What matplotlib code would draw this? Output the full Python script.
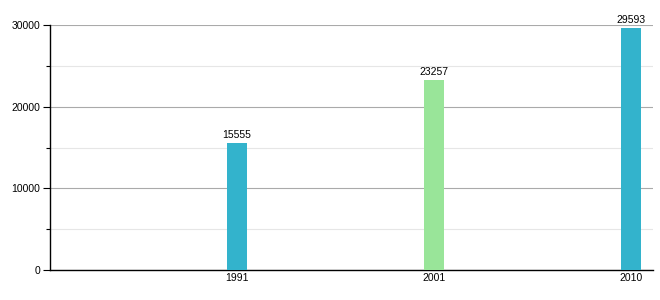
import matplotlib
matplotlib.use("Agg")
import matplotlib.pyplot as plt
from matplotlib.ticker import MultipleLocator

years = ["1991", "2001", "2010"]
values = [15555, 23257, 29593]
colors = ["#33b3cc", "#99e599", "#33b3cc"]

plt.rcParams['font.family'] = ['Liberation Sans', 'DejaVu Sans']

fig = plt.figure(figsize=(6.6, 3.0), dpi=100)
ax = fig.add_axes([50/660, 30/300, 603/660, 245/300])

xs = list(range(len(years)))
ax.bar(xs, values, width=0.1, color=colors, zorder=3)
for x, v in zip(xs, values):
    ax.text(x, v + 400, str(v), ha="center", va="bottom", fontsize=7.5, zorder=4)

ax.set_xlim(-0.949, 2.11)
ax.set_ylim(0, 30000)
ax.set_xticks(xs)
ax.set_xticklabels(years)
ax.yaxis.set_major_locator(MultipleLocator(10000))
ax.yaxis.set_minor_locator(MultipleLocator(5000))
ax.grid(axis="y", which="major", color="#aaaaaa", linewidth=0.8, zorder=0)
ax.grid(axis="y", which="minor", color="#e6e6e6", linewidth=0.8, zorder=0)

for s in ["top", "right"]:
    ax.spines[s].set_visible(False)
ax.spines["left"].set_linewidth(1.0)
ax.spines["bottom"].set_linewidth(1.0)

ax.tick_params(axis="y", which="major", length=5, width=0.8, labelsize=7.5, pad=2)
ax.tick_params(axis="y", which="minor", length=3, width=0.8)
ax.tick_params(axis="x", length=0, labelsize=7.5, pad=2)

fig.savefig("out.png", dpi=100)
